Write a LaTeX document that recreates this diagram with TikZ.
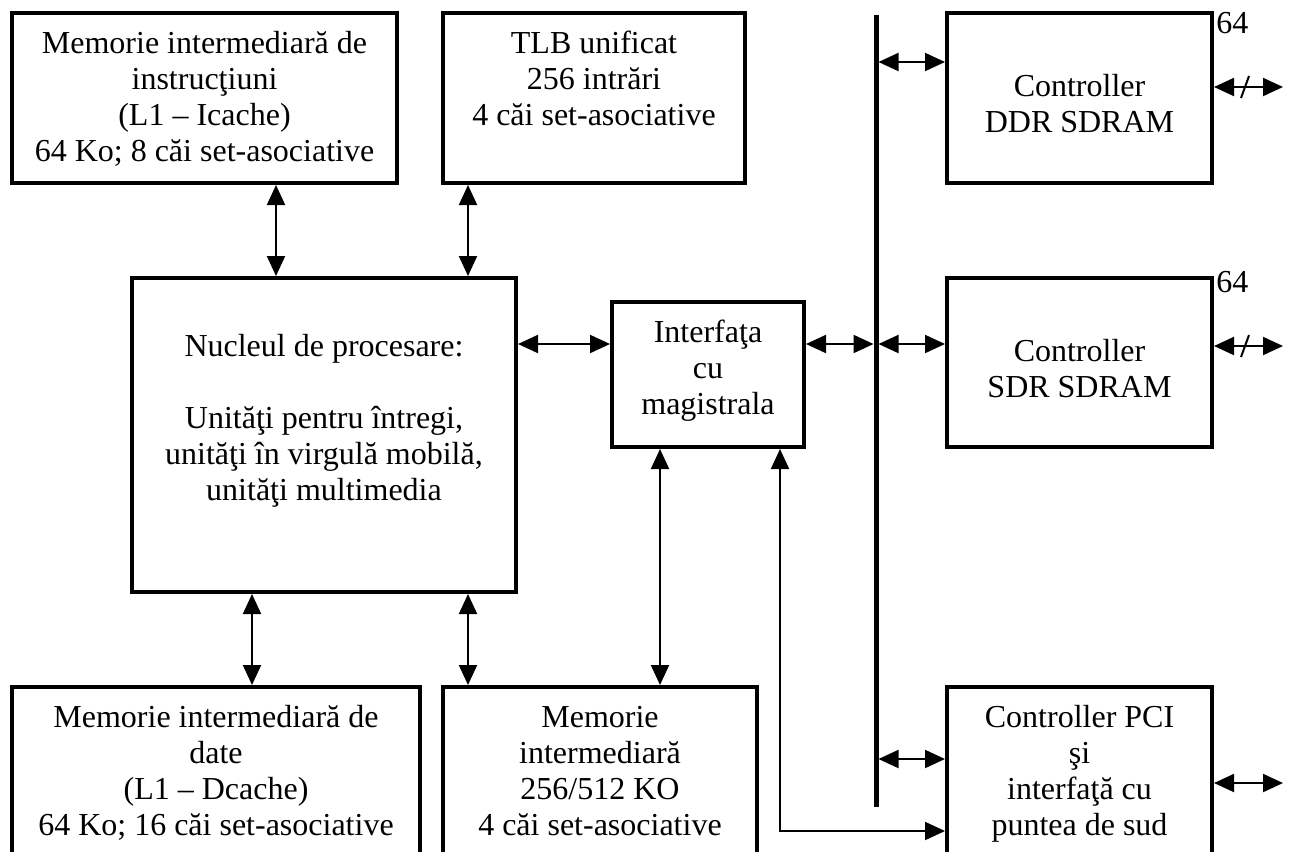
\documentclass[tikz,border=0pt]{standalone}
\usepackage{fontspec}
\setmainfont{Liberation Serif}
\usetikzlibrary{arrows.meta}

% one drawing unit
\newdimen\pxu \pxu=0.5pt

% box body: width, height, offset of first baseline from the top, lines
\newcommand\boxtext[4]{%
  \begin{minipage}[c][#2\pxu][t]{#1\pxu}\centering
  \vspace*{\dimexpr #3\pxu-\ht\strutbox\relax}\strut #4\end{minipage}}

\tikzset{
  blockbox/.style={draw, line width=2pt, inner sep=0pt, outer sep=1pt,
    font=\fontsize{16}{18}\selectfont},
  conn/.style={line width=1pt, {Triangle[length=10pt,width=9pt]}-{Triangle[length=10pt,width=9pt]}},
  oneway/.style={line width=1pt, -{Triangle[length=10pt,width=9pt]}},
  buswidth/.style={line width=1pt},
  lbl/.style={inner sep=0pt, font=\fontsize{16}{18}\selectfont},
}

\begin{document}
\begin{tikzpicture}[x=0.5pt, y=-0.5pt]
\useasboundingbox (0,0) rectangle (1293,851);
\clip (0,0) rectangle (1293,851);

% blocks
\node[blockbox] (icache) at (204.5,98) {\boxtext{385}{170}{40}{Memorie intermediară de\\instrucţiuni\\(L1 – Icache)\\64 Ko; 8 căi set-asociative}};
\node[blockbox] (tlb) at (594,98) {\boxtext{302}{170}{40}{TLB unificat\\256 intrări\\4 căi set-asociative}};
\node[blockbox] (ddr) at (1079.5,98) {\boxtext{265}{170}{83}{Controller\\DDR SDRAM}};
\node[blockbox] (sdr) at (1079.5,362.5) {\boxtext{265}{169}{83}{Controller\\SDR SDRAM}};
\node[blockbox] (nucleul) at (324,435) {\boxtext{384}{314}{78}{Nucleul de procesare:\\[18pt]Unităţi pentru întregi,\\unităţi în virgulă mobilă,\\unităţi multimedia}};
\node[blockbox] (interfata) at (708,374.5) {\boxtext{192}{145}{40}{Interfaţa\\cu\\magistrala}};
\node[blockbox] (dcache) at (216,778.5) {\boxtext{408}{183}{40}{Memorie intermediară de\\date\\(L1 – Dcache)\\64 Ko; 16 căi set-asociative}};
\node[blockbox] (l2) at (600,778.5) {\boxtext{314}{183}{40}{Memorie\\intermediară\\256/512 KO\\4 căi set-asociative}};
\node[blockbox] (pci) at (1079.5,778.5) {\boxtext{265}{183}{40}{Controller PCI\\şi\\interfaţă cu\\puntea de sud}};

% system bus
\node[fill=black, draw=none, inner sep=0pt, outer sep=0pt,
      minimum width=2.5pt, minimum height=396pt] (bus) at (876,411) {};

% bus width labels
\node[lbl, anchor=base west] (w64a) at (1216,33) {64};
\node[lbl, anchor=base west] (w64b) at (1216,292) {64};

% core to caches
\draw[conn] (icache.south -| 276,0) -- (nucleul.north -| 276,0);
\draw[conn] (tlb.south -| 468,0) -- (nucleul.north -| 468,0);
\draw[conn] (nucleul.south -| 252,0) -- (dcache.north -| 252,0);
\draw[conn] (nucleul.south -| 468,0) -- (l2.north -| 468,0);
\draw[conn] (interfata.south -| 660,0) -- (l2.north -| 660,0);

% core, bus interface and bus
\draw[conn] (nucleul.east |- 0,344) -- (interfata.west |- 0,344);
\draw[conn] (interfata.east |- 0,344) -- (bus.west |- 0,344);
\draw[conn] (bus.east |- 0,344) -- (sdr.west |- 0,344);
\draw[conn] (bus.east |- 0,62) -- (ddr.west |- 0,62);
\draw[conn] (bus.east |- 0,759) -- (pci.west |- 0,759);

% bus interface to PCI controller
\coordinate (bend) at (780,831);
\draw[conn] (interfata.south -| bend) |- (pci.west |- bend);

% external links
\coordinate (ddrout) at (1283,87);
\coordinate (sdrout) at (1283,346);
\coordinate (pciout) at (1283,783);
\draw[conn] (ddr.east |- ddrout) -- (ddrout);
\draw[conn] (sdr.east |- sdrout) -- (sdrout);
\draw[conn] (pci.east |- pciout) -- (pciout);
\draw[buswidth] (1241,98) -- (1249,76);
\draw[buswidth] (1241,357) -- (1249,335);
\end{tikzpicture}
\end{document}
